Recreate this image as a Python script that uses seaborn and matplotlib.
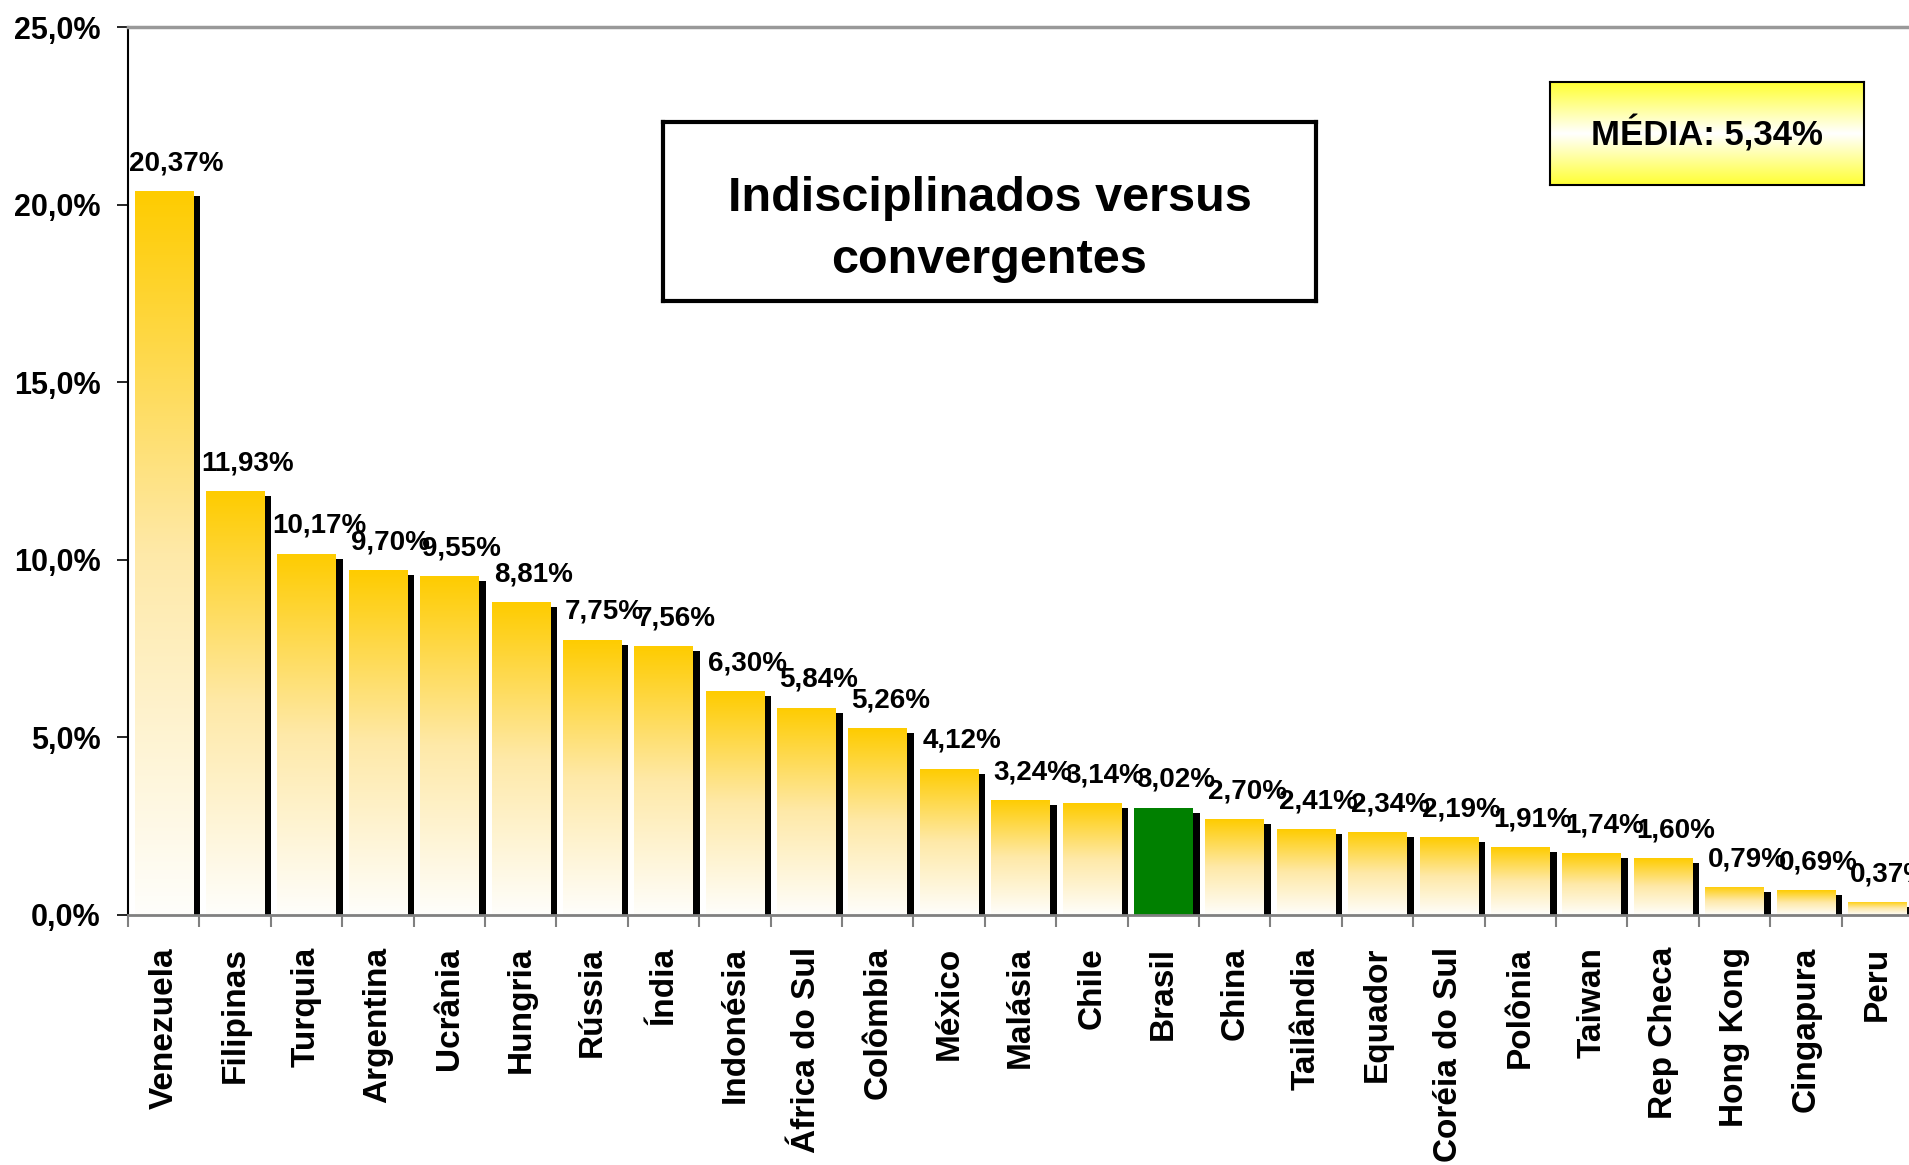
import numpy as np
import matplotlib
matplotlib.use("Agg")
import matplotlib.pyplot as plt
import matplotlib.transforms as mtransforms
from matplotlib.colors import LinearSegmentedColormap
import seaborn as sns

paises = ["Venezuela", "Filipinas", "Turquia", "Argentina", "Ucrânia", "Hungria",
          "Rússia", "Índia", "Indonésia", "África do Sul", "Colômbia", "México",
          "Malásia", "Chile", "Brasil", "China", "Tailândia", "Equador",
          "Coréia do Sul", "Polônia", "Taiwan", "Rep Checa", "Hong Kong",
          "Cingapura", "Peru"]
valores = [20.37, 11.93, 10.17, 9.70, 9.55, 8.81, 7.75, 7.56, 6.30, 5.84, 5.26,
           4.12, 3.24, 3.14, 3.02, 2.70, 2.41, 2.34, 2.19, 1.91, 1.74, 1.60,
           0.79, 0.69, 0.37]
destaque = "Brasil"
media = 5.34
y_ticks = [0, 5, 10, 15, 20, 25]
titulo = "Indisciplinados versus\nconvergentes"


def pct(v, casas):
    return f"{v:.{casas}f}%".replace(".", ",")


sns.set_style("white")
plt.rcParams["font.family"] = ["Liberation Sans", "DejaVu Sans"]
plt.rcParams["font.weight"] = "bold"
plt.rcParams["text.color"] = "black"
plt.rcParams["xtick.labelcolor"] = "black"
plt.rcParams["ytick.labelcolor"] = "black"

fig = plt.figure(figsize=(19.09, 11.65), dpi=100)
ax = fig.add_axes([0.0671, 0.2146, 0.935, 0.7622])
n = len(paises)

# sombra preta deslocada para a direita/baixo
sns.barplot(x=paises, y=valores, color="black", width=0.82, saturation=1,
            errorbar=None, ax=ax)
desloc = mtransforms.ScaledTranslation(7 / 100, -5 / 100, fig.dpi_scale_trans)
for p in ax.patches[:n]:
    p.set_transform(ax.transData + desloc)
    p.set_linewidth(0)
    p.set_zorder(1)

# barras principais
sns.barplot(x=paises, y=valores, color="white", width=0.82, saturation=1,
            errorbar=None, ax=ax)
ouro = LinearSegmentedColormap.from_list("ouro", ["#fffefb", "#fee9a8", "#ffcc00"])
grad = np.linspace(0, 1, 256).reshape(-1, 1)
for nome, p in zip(paises, ax.patches[n:]):
    p.set_linewidth(0)
    p.set_zorder(2)
    if nome == destaque:
        p.set_facecolor("#008000")
        continue
    x0, y0 = p.get_x(), p.get_y()
    w, h = p.get_width(), p.get_height()
    im = ax.imshow(grad, cmap=ouro, origin="lower", aspect="auto",
                   extent=(x0, x0 + w, y0, y0 + h), zorder=2.5,
                   interpolation="bilinear")
    im.set_clip_path(p)

# rótulos de valor
for i, v in enumerate(valores):
    ax.annotate(pct(v, 2), xy=(i, v), xytext=(9, 20), textcoords="offset points",
                ha="center", va="center", fontsize=20, fontweight="bold",
                color="black")

ax.set_xlim(-0.5, n - 0.5)
ax.set_ylim(0, 25)
ax.set_yticks(y_ticks)
ax.set_yticklabels([pct(t, 1) for t in y_ticks], fontsize=22, fontweight="bold")
ax.set_xticks(range(n))
ax.set_xticklabels(paises, rotation=90, fontsize=24, fontweight="bold",
                   va="top", ha="center")
ax.set_xticks(np.arange(-0.5, n), minor=True)
ax.tick_params(axis="x", which="major", bottom=True, length=0, pad=23)
ax.tick_params(axis="x", which="minor", bottom=True, length=8.6, width=1.5,
               color="#808080", direction="out")
ax.tick_params(axis="y", left=True, length=8, width=1.2, color="black",
               direction="out", pad=12)
ax.set_xlabel("")
ax.set_ylabel("")

ax.spines["left"].set_color("black")
ax.spines["left"].set_linewidth(1.5)
ax.spines["bottom"].set_color("#808080")
ax.spines["bottom"].set_linewidth(2)
ax.spines["top"].set_color("#999999")
ax.spines["top"].set_linewidth(2.5)
ax.spines["right"].set_visible(False)

# caixa do título
caixa = fig.add_axes([0.3473, 0.7416, 0.3421, 0.1536])
caixa.set_xticks([])
caixa.set_yticks([])
caixa.set_facecolor("white")
for s in caixa.spines.values():
    s.set_visible(True)
    s.set_color("black")
    s.set_linewidth(3)
caixa.text(0.5, 0.40, titulo, ha="center", va="center", fontsize=35,
           fontweight="bold", linespacing=1.5, transform=caixa.transAxes)

# caixa da média com gradiente amarelo-branco-amarelo
cm = fig.add_axes([0.8119, 0.8412, 0.1645, 0.0884])
amarelo = LinearSegmentedColormap.from_list("amarelo", ["#ffff33", "#ffffff", "#ffff33"])
cm.imshow(grad, cmap=amarelo, origin="lower", aspect="auto", extent=(0, 1, 0, 1))
cm.set_xlim(0, 1)
cm.set_ylim(0, 1)
cm.set_xticks([])
cm.set_yticks([])
for s in cm.spines.values():
    s.set_visible(True)
    s.set_color("black")
    s.set_linewidth(1.5)
cm.text(0.5, 0.5, "MÉDIA: " + pct(media, 2), ha="center", va="center",
        fontsize=25, fontweight="bold", transform=cm.transAxes)

plt.savefig("out.png", dpi=100, facecolor="white")
plt.close()
